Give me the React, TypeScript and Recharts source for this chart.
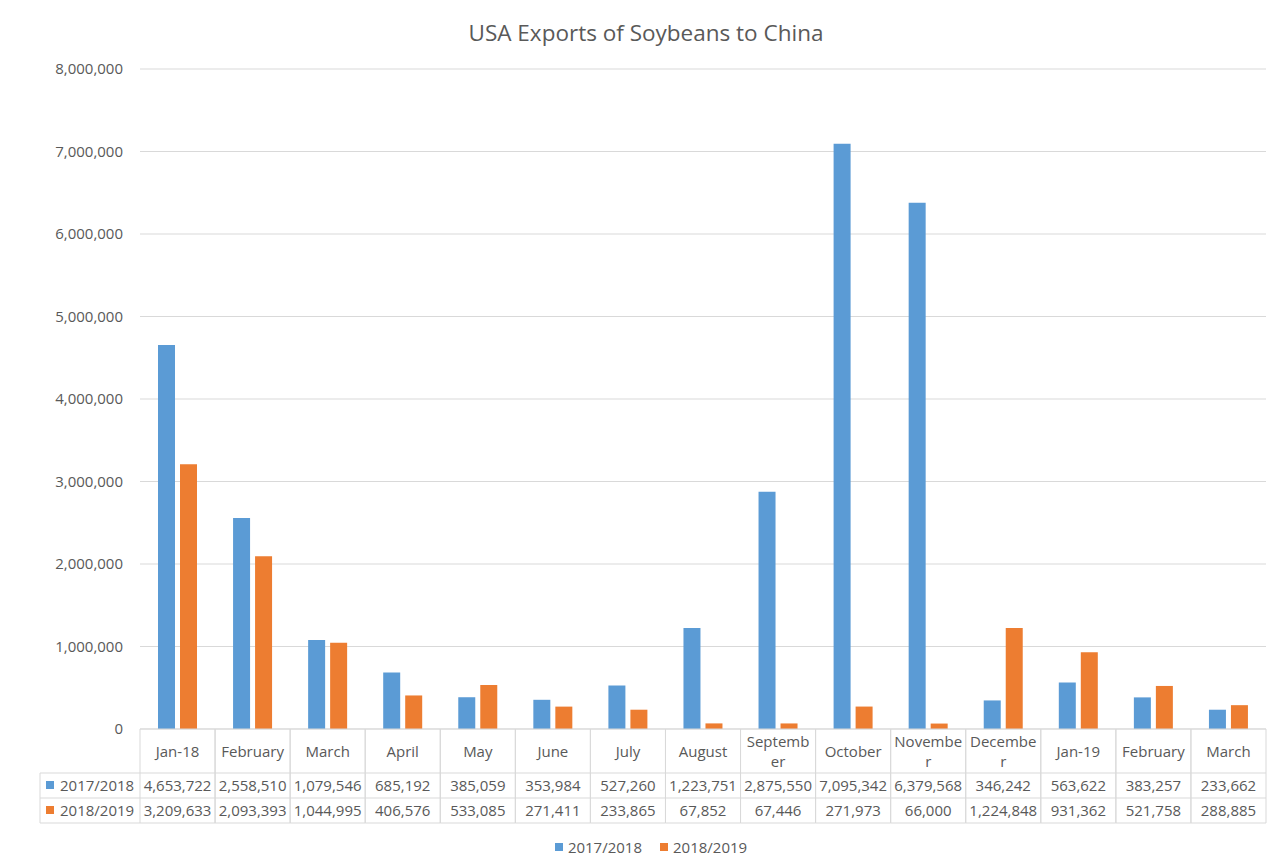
import { BarChart, Bar, XAxis, YAxis, CartesianGrid, Legend } from "recharts";

const months = [
  "Jan-18", "February", "March", "April", "May", "June", "July", "August",
  "September", "October", "November", "December", "Jan-19", "February", "March",
];
const exports1718 = [
  4653722, 2558510, 1079546, 685192, 385059, 353984, 527260, 1223751,
  2875550, 7095342, 6379568, 346242, 563622, 383257, 233662,
];
const exports1819 = [
  3209633, 2093393, 1044995, 406576, 533085, 271411, 233865, 67852,
  67446, 271973, 66000, 1224848, 931362, 521758, 288885,
];
const yTicks = [0, 1000000, 2000000, 3000000, 4000000, 5000000, 6000000, 7000000, 8000000];

const series = [
  { key: "s1", name: "2017/2018", color: "#5B9BD5", values: exports1718 },
  { key: "s2", name: "2018/2019", color: "#ED7D31", values: exports1819 },
];

const data = months.map((m, i) => ({ month: m, s1: exports1718[i], s2: exports1819[i] }));

const W = 1284;
const H = 867;
const PLOT_L = 140;
const PLOT_R = 1266;
const PLOT_T = 69;
const PLOT_B = 729;
const AXIS_H = 94;
const BAND = (PLOT_R - PLOT_L) / months.length;
const FONT = "'Open Sans', sans-serif";
const FS = 15;
const TXT = "#595959";
const LINE = "#d9d9d9";

const fmt = (v: number) => (v === 0 ? "0" : v.toLocaleString("en-US"));

let ctx: CanvasRenderingContext2D | null = null;
function wrap(text: string, maxW: number): string[] {
  if (!ctx) ctx = document.createElement("canvas").getContext("2d");
  if (!ctx) return [text];
  ctx.font = `${FS}px 'Open Sans'`;
  if (ctx.measureText(text).width <= maxW) return [text];
  const lines: string[] = [];
  let cur = "";
  for (const ch of text) {
    if (cur && ctx.measureText(cur + ch).width > maxW) {
      lines.push(cur);
      cur = ch;
    } else cur += ch;
  }
  if (cur) lines.push(cur);
  return lines;
}

// x-axis tick draws one column of the data table under the bars
function TableTick(props: any) {
  const { x, y, payload, index } = props;
  const left = x - BAND / 2;
  const right = x + BAND / 2;
  const lines = wrap(String(payload.value), BAND - 5);
  const textProps = { fontFamily: FONT, fontSize: FS, fill: TXT, textAnchor: "middle" as const, dominantBaseline: "central" as const };
  return (
    <g>
      <line x1={left} x2={left} y1={y} y2={y + 94} stroke={LINE} />
      <line x1={right} x2={right} y1={y} y2={y + 94} stroke={LINE} />
      <line x1={left} x2={right} y1={y + 44} y2={y + 44} stroke={LINE} />
      <line x1={left} x2={right} y1={y + 69} y2={y + 69} stroke={LINE} />
      <line x1={left} x2={right} y1={y + 94} y2={y + 94} stroke={LINE} />
      {lines.map((l, k) => (
        <text key={k} x={x} y={lines.length === 1 ? y + 22 : y + 12 + k * 20} {...textProps}>{l}</text>
      ))}
      {series.map((s, k) => (
        <text key={s.key} x={x} y={y + 56 + k * 25} {...textProps}>{fmt(s.values[index])}</text>
      ))}
      {index === 0 && (
        <g>
          <line x1={40} x2={left} y1={y + 44} y2={y + 44} stroke={LINE} />
          <line x1={40} x2={left} y1={y + 69} y2={y + 69} stroke={LINE} />
          <line x1={40} x2={left} y1={y + 94} y2={y + 94} stroke={LINE} />
          <line x1={40} x2={40} y1={y + 44} y2={y + 94} stroke={LINE} />
          {series.map((s, k) => (
            <g key={s.key}>
              <rect x={46} y={y + 52 + k * 25} width={8} height={8} fill={s.color} />
              <text x={60} y={y + 56 + k * 25} fontFamily={FONT} fontSize={FS} fill={TXT} dominantBaseline="central">{s.name}</text>
            </g>
          ))}
        </g>
      )}
    </g>
  );
}

function LegendContent(props: any) {
  const items = props.payload ?? [];
  return (
    <div style={{ display: "flex", justifyContent: "center", paddingLeft: 18, fontFamily: FONT, fontSize: FS, color: TXT, lineHeight: "22px" }}>
      {items.map((it: any, i: number) => (
        <span key={i} style={{ display: "flex", alignItems: "center", marginLeft: i ? 18 : 0 }}>
          <span style={{ width: 8, height: 8, background: it.color, marginRight: 5, display: "inline-block" }} />
          {it.value}
        </span>
      ))}
    </div>
  );
}

export default function App() {
  return (
    <div style={{ position: "relative", width: W, height: H, margin: -8, overflow: "hidden", background: "#fff" }}>
      <div style={{ position: "absolute", left: 7, top: 4, width: W, height: H, borderLeft: `1px solid ${LINE}`, borderTop: `1px solid ${LINE}` }} />
      <div style={{ position: "absolute", left: 4, top: 19, width: W, textAlign: "center", fontFamily: FONT, fontSize: 22.5, color: TXT, lineHeight: "28px", zIndex: 2 }}>
        USA Exports of Soybeans to China
      </div>
      <BarChart
        width={W}
        height={H}
        data={data}
        margin={{ top: PLOT_T, right: W - PLOT_R, bottom: H - PLOT_B - AXIS_H, left: 40 }}
        barSize={17}
        barGap={5}
      >
        <CartesianGrid vertical={false} stroke={LINE} />
        <XAxis
          dataKey="month"
          height={AXIS_H}
          interval={0}
          tickLine={false}
          tickSize={0}
          tickMargin={0}
          axisLine={{ stroke: LINE }}
          tick={<TableTick />}
        />
        <YAxis
          width={PLOT_L - 40}
          domain={[0, 8000000]}
          ticks={yTicks}
          tickFormatter={fmt}
          axisLine={false}
          tickLine={false}
          tickSize={0}
          tickMargin={17}
          tick={{ fontFamily: FONT, fontSize: FS, fill: TXT }}
        />
        <Legend
          layout="vertical"
          align="center"
          verticalAlign="middle"
          content={<LegendContent />}
          wrapperStyle={{ top: 836, left: 0, width: W, height: 22 }}
        />
        {series.map((s) => (
          <Bar key={s.key} dataKey={s.key} name={s.name} fill={s.color} isAnimationActive={false} />
        ))}
      </BarChart>
    </div>
  );
}
